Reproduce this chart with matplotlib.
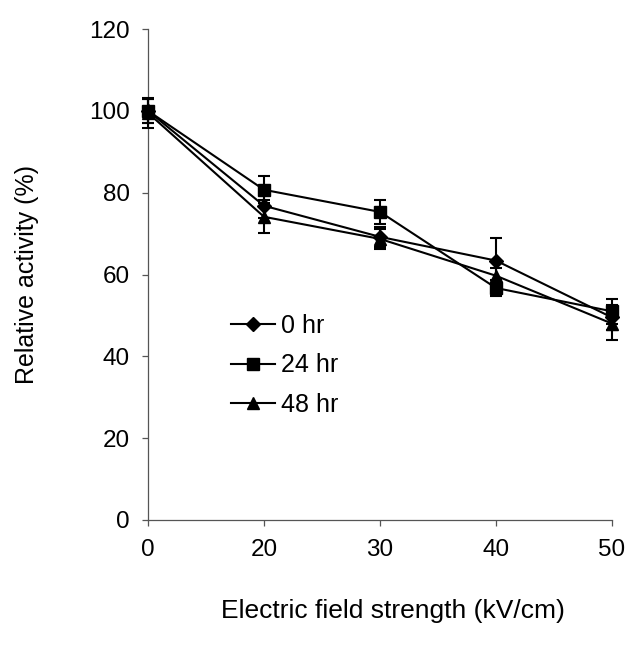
import matplotlib.pyplot as plt

plt.rcParams['font.family'] = ['Liberation Sans', 'DejaVu Sans']

# Data
field_labels = ['0', '20', '30', '40', '50']
series_names = ['0 hr', '24 hr', '48 hr']
act_0hr = [100, 76.8, 69.2, 63.4, 49.5]
err_0hr = [3.0, 3.0, 2.5, 5.5, 3.0]
act_24hr = [100, 80.7, 75.3, 56.7, 51.0]
err_24hr = [3.0, 3.3, 3.0, 2.0, 3.0]
act_48hr = [99.5, 74.1, 68.7, 59.7, 48.0]
err_48hr = [3.7, 4.0, 2.5, 2.0, 4.0]

W, H = 626, 654
fig = plt.figure(figsize=(W / 100, H / 100), dpi=100)
ax = fig.add_axes([148 / W, (H - 520) / H, (612 - 148) / W, (520 - 29) / H])

x = list(range(len(field_labels)))
markers = ['D', 's', '^']
msizes = [7, 9, 9]
for vals, errs, name, m, ms in zip([act_0hr, act_24hr, act_48hr],
                                    [err_0hr, err_24hr, err_48hr],
                                    series_names, markers, msizes):
    ax.errorbar(x, vals, yerr=errs, color='black', lw=1.5, marker=m, ms=ms,
                capsize=4.5, capthick=1.5, elinewidth=1.5, label=name,
                clip_on=False, zorder=3)

ax.set_xlim(0, 4)
ax.set_ylim(0, 120)
ax.set_xticks(x)
ax.set_xticklabels(field_labels)
ax.set_yticks(range(0, 121, 20))

for s in ['top', 'right']:
    ax.spines[s].set_visible(False)
for s in ['left', 'bottom']:
    ax.spines[s].set_color('#555555')
    ax.spines[s].set_linewidth(0.9)
ax.tick_params(axis='both', colors='#555555', labelcolor='black',
               labelsize=17.5, length=4.5, width=0.9)
ax.tick_params(axis='x', pad=9)
ax.tick_params(axis='y', pad=8.5)

ax.set_ylabel('Relative activity (%)', fontsize=18, labelpad=36)
fig.text(393 / W, 1 - 611 / H, 'Electric field strength (kV/cm)',
         fontsize=19, ha='center', va='center')

handles, labels = ax.get_legend_handles_labels()
handles = [h[0] for h in handles]
fig.legend(handles, labels, loc='upper left',
           bbox_to_anchor=(231 / W, 1 - 314 / H), frameon=False,
           fontsize=18, handlelength=1.75, handletextpad=0.25,
           labelspacing=0.62, borderpad=0, borderaxespad=0)

fig.savefig('out.png', dpi=100)
